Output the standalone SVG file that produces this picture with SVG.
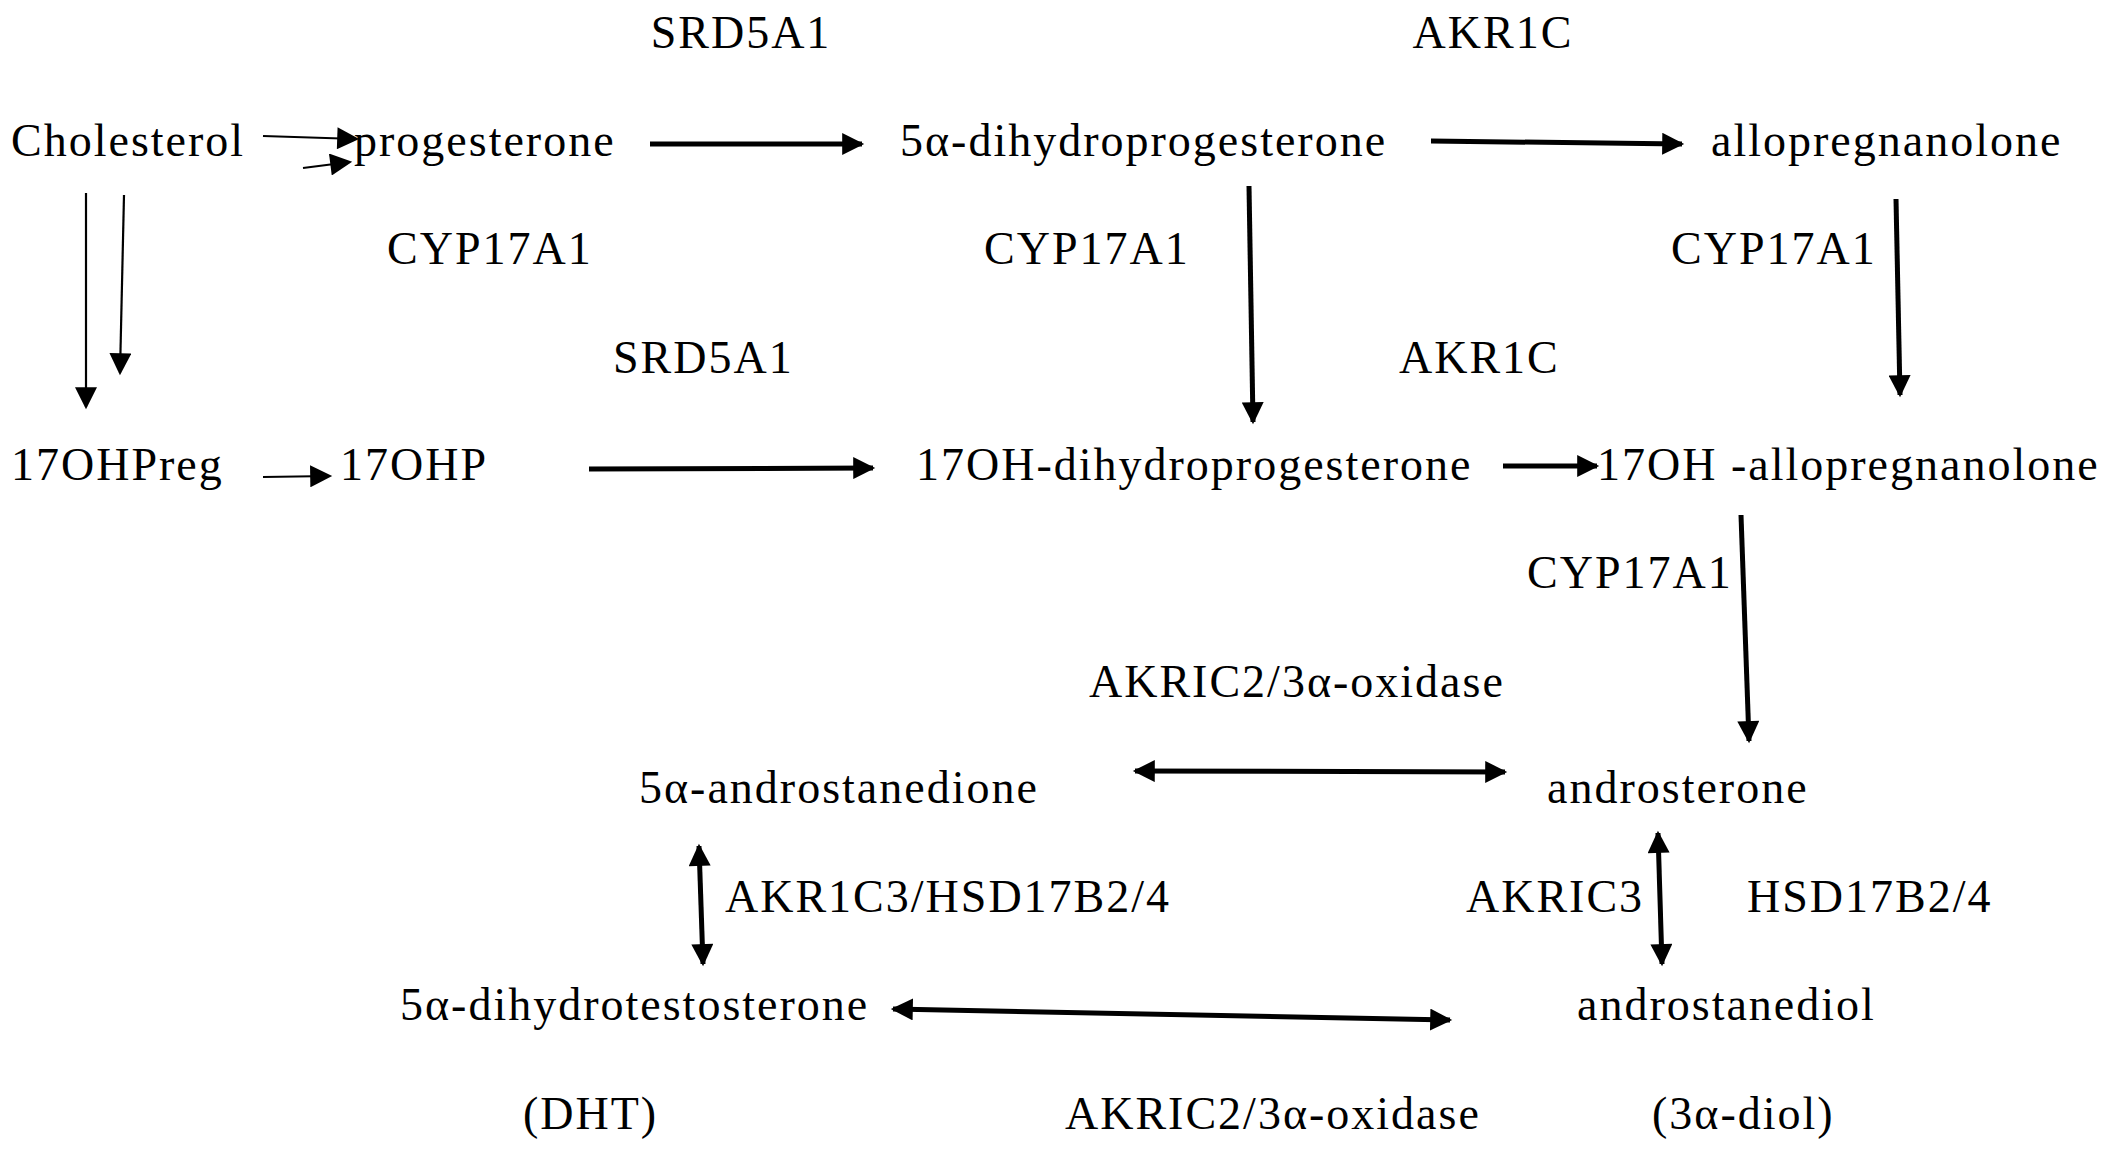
<svg xmlns="http://www.w3.org/2000/svg" width="2113" height="1150" viewBox="0 0 2113 1150">
<style>
text{font-family:"Liberation Serif","Times New Roman",serif;font-size:46px;letter-spacing:2px;fill:#000}
.thin{stroke:#000;stroke-width:2.2;fill:none}
.thick{stroke:#000;stroke-width:5;fill:none}
</style>
<defs>
<marker id="a" viewBox="0 0 10 10" refX="9" refY="5" markerWidth="26" markerHeight="22" markerUnits="userSpaceOnUse" orient="auto"><path d="M0,0 L10,5 L0,10 z" fill="#000"/></marker>
<marker id="as" viewBox="0 0 10 10" refX="9" refY="5" markerWidth="26" markerHeight="22" markerUnits="userSpaceOnUse" orient="auto-start-reverse"><path d="M0,0 L10,5 L0,10 z" fill="#000"/></marker>
</defs>
<rect width="2113" height="1150" fill="#fff"/>
<g id="labels">
<text x="741" y="48" text-anchor="middle">SRD5A1</text>
<text x="1493" y="48" text-anchor="middle">AKR1C</text>
<text x="387" y="264">CYP17A1</text>
<text x="984" y="264">CYP17A1</text>
<text x="1671" y="264">CYP17A1</text>
<text x="613" y="373">SRD5A1</text>
<text x="1399" y="373">AKR1C</text>
<text x="1527" y="588">CYP17A1</text>
<text x="1089" y="697">AKRIC2/3α-oxidase</text>
<text x="725" y="912">AKR1C3/HSD17B2/4</text>
<text x="1466" y="912">AKRIC3</text>
<text x="1747" y="912">HSD17B2/4</text>
<text x="1065" y="1129">AKRIC2/3α-oxidase</text>
</g>
<g id="n-chol"><text x="11" y="156">Cholesterol</text></g>
<g id="n-prog"><text x="354" y="156">progesterone</text></g>
<g id="n-dhp"><text x="900" y="156">5α-dihydroprogesterone</text></g>
<g id="n-allo"><text x="1711" y="156">allopregnanolone</text></g>
<g id="n-17preg"><text x="11" y="480">17OHPreg</text></g>
<g id="n-17ohp"><text x="340" y="480">17OHP</text></g>
<g id="n-17dhp"><text x="916" y="480">17OH-dihydroprogesterone</text></g>
<g id="n-17allo"><text x="1597" y="480">17OH -allopregnanolone</text></g>
<g id="n-adione"><text x="639" y="803">5α-androstanedione</text></g>
<g id="n-andro"><text x="1547" y="803">androsterone</text></g>
<g id="n-dht"><text x="400" y="1020">5α-dihydrotestosterone</text><text x="523" y="1129">(DHT)</text></g>
<g id="n-diol"><text x="1577" y="1020">androstanediol</text><text x="1652" y="1129">(3α-diol)</text></g>
<g id="connectors">
<line class="thin" x1="263" y1="136" x2="357" y2="139" marker-end="url(#a)"/>
<line class="thin" x1="303" y1="168" x2="350" y2="162" marker-end="url(#a)"/>
<line class="thin" x1="86" y1="193" x2="86" y2="407" marker-end="url(#a)"/>
<line class="thin" x1="124" y1="195" x2="120" y2="373" marker-end="url(#a)"/>
<line class="thin" x1="263" y1="477" x2="330" y2="476" marker-end="url(#a)"/>
<line class="thick" x1="650" y1="144" x2="862" y2="144" marker-end="url(#a)"/>
<line class="thick" x1="1431" y1="141" x2="1682" y2="144" marker-end="url(#a)"/>
<line class="thick" x1="1249" y1="186" x2="1253" y2="422" marker-end="url(#a)"/>
<line class="thick" x1="1896" y1="199" x2="1900" y2="395" marker-end="url(#a)"/>
<line class="thick" x1="589" y1="469" x2="873" y2="468" marker-end="url(#a)"/>
<line class="thick" x1="1503" y1="466" x2="1597" y2="466" marker-end="url(#a)"/>
<line class="thick" x1="1741" y1="515" x2="1749" y2="741" marker-end="url(#a)"/>
<line class="thick" x1="1135" y1="771" x2="1505" y2="772" marker-start="url(#as)" marker-end="url(#a)"/>
<line class="thick" x1="699" y1="846" x2="703" y2="964" marker-start="url(#as)" marker-end="url(#a)"/>
<line class="thick" x1="1658" y1="833" x2="1662" y2="964" marker-start="url(#as)" marker-end="url(#a)"/>
<line class="thick" x1="893" y1="1009" x2="1450" y2="1020" marker-start="url(#as)" marker-end="url(#a)"/>
</g>
</svg>
